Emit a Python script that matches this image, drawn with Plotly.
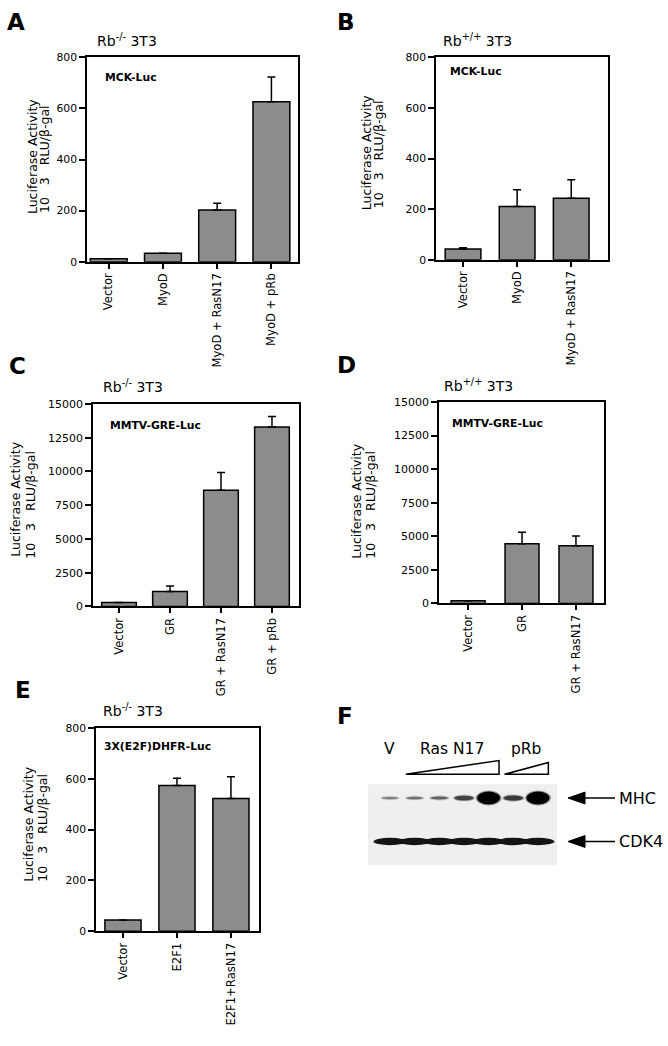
import plotly.graph_objects as go

W, H = 668, 1046

# ---------------- data ----------------
a_cats = ["Vector", "MyoD", "MyoD + RasN17", "MyoD + pRb"]
a_vals = [12, 33, 203, 626]
a_errs = [0, 0, 26, 97]

b_cats = ["Vector", "MyoD", "MyoD + RasN17"]
b_vals = [43, 211, 243]
b_errs = [5, 66, 73]

c_cats = ["Vector", "GR", "GR + RasN17", "GR + pRb"]
c_vals = [290, 1100, 8600, 13300]
c_errs = [0, 410, 1320, 780]

d_cats = ["Vector", "GR", "GR + RasN17"]
d_vals = [200, 4450, 4290]
d_errs = [0, 860, 735]

e_cats = ["Vector", "E2F1", "E2F1+RasN17"]
e_vals = [45, 574, 522]
e_errs = [0, 28, 86]

# western blot (panel F): lanes and relative band signal
blot_lanes = [1, 2, 3, 4, 5, 6, 7]
mhc_signal = [0.15, 0.22, 0.3, 0.5, 1.0, 0.55, 1.0]
cdk4_signal = [1.0, 1.0, 1.0, 1.0, 1.0, 1.0, 1.0]
ras_lanes = [2, 3, 4, 5]
prb_lanes = [6, 7]

FONT = "DejaVu Sans, Verdana, sans-serif"


def px(x):
    return x / W


def py(y):
    return 1 - y / H


panels = [
    dict(letter="A", title="Rb<sup>-/-</sup> 3T3", inner="MCK-Luc", cats=a_cats, vals=a_vals, errs=a_errs,
         xd=(87, 298), yd=(52, 259), xr=(-0.40, 3.49), yr=(0, 800), dt=200, bw=0.68, tfs=10.8,
         letter_pos=(16, 16), title_pos=(127, 34), inner_pos=(103, 72),
         yt1=(32, 153), yt2=(44, 155)),
    dict(letter="B", title="Rb<sup>+/+</sup> 3T3", inner="MCK-Luc", cats=b_cats, vals=b_vals, errs=b_errs,
         xd=(436, 608), yd=(52, 257), xr=(-0.5, 2.68), yr=(0, 800), dt=200, bw=0.66, tfs=10.8,
         letter_pos=(346, 16), title_pos=(477, 34), inner_pos=(448, 66),
         yt1=(366, 149), yt2=(378, 150)),
    dict(letter="C", title="Rb<sup>-/-</sup> 3T3", inner="MMTV-GRE-Luc", cats=c_cats, vals=c_vals, errs=c_errs,
         xd=(93, 299), yd=(403, 608), xr=(-0.51, 3.53), yr=(0, 15000), dt=2500, bw=0.68, tfs=11,
         letter_pos=(17, 365), title_pos=(133, 385), inner_pos=(108, 425),
         yt1=(16, 500), yt2=(31, 505)),
    dict(letter="D", title="Rb<sup>+/+</sup> 3T3", inner="MMTV-GRE-Luc", cats=d_cats, vals=d_vals, errs=d_errs,
         xd=(439, 604), yd=(401, 605), xr=(-0.54, 2.52), yr=(0, 15000), dt=2500, bw=0.63, tfs=11,
         letter_pos=(346, 364), title_pos=(478, 384), inner_pos=(450, 423),
         yt1=(357, 502), yt2=(371, 505)),
    dict(letter="E", title="Rb<sup>-/-</sup> 3T3", inner="3X(E2F)DHFR-Luc", cats=e_cats, vals=e_vals, errs=e_errs,
         xd=(96, 259), yd=(731, 937), xr=(-0.5, 2.52), yr=(0, 800), dt=200, bw=0.67, tfs=10.8,
         letter_pos=(23, 693), title_pos=(133, 713), inner_pos=(102, 750),
         yt1=(29, 829), yt2=(43, 832)),
]

fig = go.Figure()
layout = dict(
    width=W, height=H, margin=dict(l=0, r=0, t=0, b=0),
    paper_bgcolor="white", plot_bgcolor="white", showlegend=False,
    font=dict(family=FONT, color="black"),
)
annotations = []
shapes = []

for i, p in enumerate(panels, start=1):
    xa = "x" if i == 1 else f"x{i}"
    ya = "y" if i == 1 else f"y{i}"
    n = len(p["cats"])
    fig.add_trace(go.Bar(
        x=list(range(n)), y=p["vals"], width=p["bw"],
        marker=dict(color="#8c8c8c", line=dict(color="black", width=1.5)),
        error_y=dict(type="data", symmetric=False, array=p["errs"], arrayminus=[0] * n,
                     color="black", thickness=1.5, width=4),
        xaxis=xa, yaxis=ya, showlegend=False, hoverinfo="skip",
    ))
    ticks_y = list(range(0, p["yr"][1] + 1, p["dt"]))
    layout["xaxis" if i == 1 else f"xaxis{i}"] = dict(
        domain=[px(p["xd"][0]), px(p["xd"][1])], range=list(p["xr"]), anchor=ya,
        tickmode="array", tickvals=list(range(n)), ticktext=p["cats"], tickangle=-90,
        ticks="outside", ticklen=5, tickwidth=1.5, tickcolor="black",
        showline=True, linewidth=1.6, linecolor="black", mirror=True,
        showgrid=False, zeroline=False, tickfont=dict(size=11.6, color="black", family=FONT),
        fixedrange=True,
    )
    layout["yaxis" if i == 1 else f"yaxis{i}"] = dict(
        domain=[py(p["yd"][1]), py(p["yd"][0])], range=list(p["yr"]), anchor=xa,
        tickmode="array", tickvals=ticks_y, ticktext=[str(t) for t in ticks_y],
        ticks="outside", ticklen=6, tickwidth=1.5, tickcolor="black",
        showline=True, linewidth=1.6, linecolor="black", mirror=True,
        showgrid=False, zeroline=False, tickfont=dict(size=p["tfs"], color="black", family=FONT),
        fixedrange=True,
    )
    annotations.append(dict(text=f"<b>{p['letter']}</b>", x=px(p["letter_pos"][0]), y=py(p["letter_pos"][1]),
                            xref="paper", yref="paper", xanchor="center", yanchor="middle",
                            showarrow=False, font=dict(size=23, family=FONT)))
    annotations.append(dict(text=p["title"], x=px(p["title_pos"][0]), y=py(p["title_pos"][1]),
                            xref="paper", yref="paper", xanchor="center", yanchor="middle",
                            showarrow=False, font=dict(size=14, family=FONT)))
    annotations.append(dict(text=f"<b>{p['inner']}</b>", x=px(p["inner_pos"][0]), y=py(p["inner_pos"][1]),
                            xref="paper", yref="paper", xanchor="left", yanchor="middle",
                            showarrow=False, font=dict(size=10.8, family=FONT)))
    annotations.append(dict(text="Luciferase Activity", x=px(p["yt1"][0]), y=py(p["yt1"][1]),
                            xref="paper", yref="paper", xanchor="center", yanchor="middle",
                            textangle=-90, showarrow=False, font=dict(size=12.5, family=FONT)))
    annotations.append(dict(text="10\u00a0\u00a0\u00a03\u00a0\u00a0\u00a0RLU/β-gal", x=px(p["yt2"][0]), y=py(p["yt2"][1]),
                            xref="paper", yref="paper", xanchor="center", yanchor="middle",
                            textangle=-90, showarrow=False, font=dict(size=12.5, family=FONT)))

# ---------------- panel F: western blot ----------------
fx0, fblot1, fx1 = 368, 557, 668
fy_top, fy_bot = 745, 870
lane_lo, lane_hi_blot = 0.11, 7.77
ppx = (fblot1 - fx0) / (lane_hi_blot - lane_lo)          # pixels per lane unit
x_range = [lane_lo, lane_lo + (fx1 - fx0) / ppx]
y_range = [-0.545, 2.295]
ppy = (fy_bot - fy_top) / (y_range[1] - y_range[0])     # pixels per row unit
layout["xaxis6"] = dict(domain=[px(fx0), px(fx1)], range=x_range, anchor="y6", visible=False, fixedrange=True)
layout["yaxis6"] = dict(domain=[py(fy_bot), py(fy_top)], range=y_range, anchor="x6", visible=False, fixedrange=True)


def lane_x(pix):
    return lane_lo + (pix - fx0) / ppx


shapes.append(dict(type="rect", xref="x6", yref="y6", x0=lane_lo, x1=lane_hi_blot,
                   y0=y_range[0], y1=y_range[0] + 82 / ppy, fillcolor="#efefef", line=dict(width=0), layer="below"))

MHC_ROW, CDK4_ROW = 1, 0
for lane, s in zip(blot_lanes, mhc_signal):
    w_px = 15 + 8 * s
    h_px = 2 + 11 * s ** 2
    g = int(150 * (1 - s) ** 1.2)
    col = f"rgb({g},{g},{g})"
    shapes.append(dict(type="circle", xref="x6", yref="y6",
                       x0=lane - (w_px + 3) / 2 / ppx, x1=lane + (w_px + 3) / 2 / ppx,
                       y0=MHC_ROW - (h_px + 2) / 2 / ppy, y1=MHC_ROW + (h_px + 2) / 2 / ppy,
                       fillcolor=col, opacity=0.35, line=dict(width=0)))
    shapes.append(dict(type="circle", xref="x6", yref="y6",
                       x0=lane - w_px / 2 / ppx, x1=lane + w_px / 2 / ppx,
                       y0=MHC_ROW - h_px / 2 / ppy, y1=MHC_ROW + h_px / 2 / ppy,
                       fillcolor=col, line=dict(width=0)))
for lane, s in zip(blot_lanes, cdk4_signal):
    w_px = 33 * s
    h_px = 7.5 * s
    shapes.append(dict(type="circle", xref="x6", yref="y6",
                       x0=lane - w_px / 2 / ppx, x1=lane + w_px / 2 / ppx,
                       y0=CDK4_ROW - h_px / 2 / ppy, y1=CDK4_ROW + h_px / 2 / ppy,
                       fillcolor="#141414", line=dict(width=0)))

# dose wedges
wedge_base = MHC_ROW + 24 / ppy
for lanes_grp, hgt in ((ras_lanes, 14), (prb_lanes, 12)):
    xl = lanes_grp[0] - 0.36
    xr = lanes_grp[-1] + 0.42
    fig.add_trace(go.Scatter(x=[xl, xr, xr, xl], y=[wedge_base, wedge_base, wedge_base + hgt / ppy, wedge_base],
                             mode="lines", fill="toself", fillcolor="white",
                             line=dict(color="black", width=1.5), xaxis="x6", yaxis="y6",
                             showlegend=False, hoverinfo="skip"))

label_y = MHC_ROW + 50 / ppy
for txt, lanes_grp in (("V", [1]), ("Ras N17", ras_lanes), ("pRb", prb_lanes)):
    annotations.append(dict(text=txt, x=sum(lanes_grp) / len(lanes_grp), y=label_y, xref="x6", yref="y6",
                            xanchor="center", yanchor="middle", showarrow=False, font=dict(size=15.5, family=FONT)))

# arrows pointing at the bands
tip, head_end, tail = lane_x(568), lane_x(585), lane_x(615)
for txt, row in (("MHC", MHC_ROW), ("CDK4", CDK4_ROW)):
    shapes.append(dict(type="line", xref="x6", yref="y6", x0=head_end - 0.05, x1=tail, y0=row, y1=row,
                       line=dict(color="black", width=1.6)))
    hh = 6 / ppy
    shapes.append(dict(type="path", xref="x6", yref="y6",
                       path=f"M {tip} {row} L {head_end} {row + hh} L {head_end} {row - hh} Z",
                       fillcolor="black", line=dict(color="black", width=1)))
    annotations.append(dict(text=txt, x=lane_x(617), y=row, xref="x6", yref="y6",
                            xanchor="left", yanchor="middle", showarrow=False, font=dict(size=16, family=FONT)))

annotations.append(dict(text="<b>F</b>", x=px(345), y=py(719), xref="paper", yref="paper",
                        xanchor="center", yanchor="middle", showarrow=False, font=dict(size=23, family=FONT)))

layout["annotations"] = annotations
layout["shapes"] = shapes
fig.update_layout(**layout)
fig.write_html("out.html", config={"displayModeBar": False},
               post_script="document.body.style.margin='0';document.body.style.overflow='hidden';")
